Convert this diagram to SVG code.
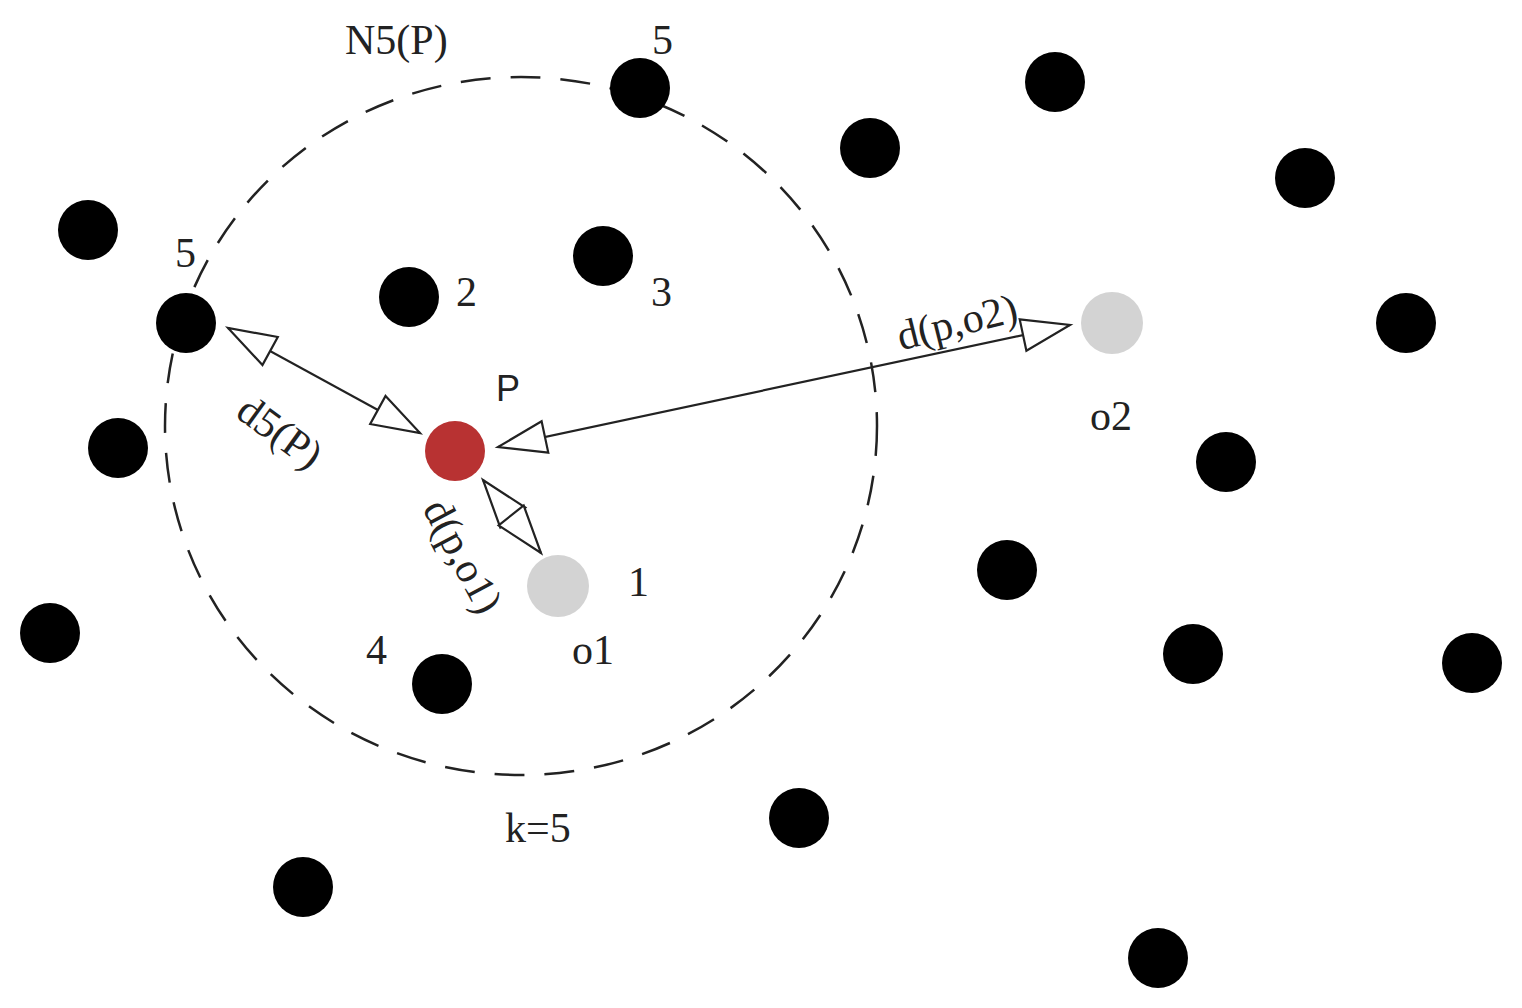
<svg xmlns="http://www.w3.org/2000/svg" width="1522" height="1008" viewBox="0 0 1522 1008">
<style>
.dot{fill:#000}
.gray{fill:#d3d3d3}
.red{fill:#b83232}
.t{font-family:"Liberation Serif",serif;font-size:42px;fill:#222}
.s{font-family:"Liberation Sans",sans-serif;font-size:36px;fill:#222}
.ln{stroke:#222;stroke-width:2.2;fill:none}
</style>
<defs>
<marker id="ah" markerUnits="userSpaceOnUse" markerWidth="54" markerHeight="38" viewBox="-2 -19 54 38" refX="48" refY="0" orient="auto-start-reverse">
<path d="M0,-16 L48,0 L0,16 Z" fill="#fff" stroke="#222" stroke-width="2.2"/>
</marker>
</defs>
<rect width="1522" height="1008" fill="#fff"/>
<g id="neighborhood">
<ellipse cx="521" cy="426" rx="356" ry="349" fill="none" stroke="#222" stroke-width="2.5" stroke-dasharray="30 20"/>
<text class="t" x="345" y="54">N5(P)</text>
<text class="t" x="505" y="842">k=5</text>
</g>
<g id="connectors">
<line class="ln" x1="228" y1="328" x2="420" y2="433" marker-start="url(#ah)" marker-end="url(#ah)"/>
<line class="ln" x1="498" y1="447" x2="1070" y2="325" marker-start="url(#ah)" marker-end="url(#ah)"/>
<line class="ln" x1="483" y1="480" x2="541" y2="553" marker-start="url(#ah)" marker-end="url(#ah)"/>
<text class="t" transform="translate(280,432) rotate(36)" text-anchor="middle" dy="14">d5(P)</text>
<text class="t" transform="translate(463,556) rotate(62)" text-anchor="middle" dy="14">d(p,o1)</text>
<text class="t" transform="translate(957,322) rotate(-14)" text-anchor="middle" dy="14">d(p,o2)</text>
</g>
<g id="p"><circle class="red" cx="455" cy="451" r="30"/><text class="s" x="496" y="401">P</text></g>
<g id="o1"><circle class="gray" cx="558" cy="586" r="31"/><text class="t" x="628" y="596">1</text><text class="t" x="572" y="664">o1</text></g>
<g id="o2"><circle class="gray" cx="1112" cy="323" r="31"/><text class="t" x="1090" y="430">o2</text></g>
<g id="n1"><circle class="dot" cx="640" cy="88" r="30"/><text class="t" x="652" y="54">5</text></g>
<g id="n2"><circle class="dot" cx="409" cy="297" r="30"/><text class="t" x="456" y="306">2</text></g>
<g id="n3"><circle class="dot" cx="603" cy="256" r="30"/><text class="t" x="651" y="306">3</text></g>
<g id="n4"><circle class="dot" cx="442" cy="684" r="30"/><text class="t" x="366" y="664">4</text></g>
<g id="n5"><circle class="dot" cx="186" cy="323" r="30"/><text class="t" x="175" y="267">5</text></g>
<g id="d1"><circle class="dot" cx="1055" cy="82" r="30"/></g>
<g id="d2"><circle class="dot" cx="870" cy="148" r="30"/></g>
<g id="d3"><circle class="dot" cx="1305" cy="178" r="30"/></g>
<g id="d4"><circle class="dot" cx="88" cy="230" r="30"/></g>
<g id="d5"><circle class="dot" cx="1406" cy="323" r="30"/></g>
<g id="d6"><circle class="dot" cx="118" cy="448" r="30"/></g>
<g id="d7"><circle class="dot" cx="1226" cy="462" r="30"/></g>
<g id="d8"><circle class="dot" cx="1007" cy="570" r="30"/></g>
<g id="d9"><circle class="dot" cx="50" cy="633" r="30"/></g>
<g id="d10"><circle class="dot" cx="1193" cy="654" r="30"/></g>
<g id="d11"><circle class="dot" cx="1472" cy="663" r="30"/></g>
<g id="d12"><circle class="dot" cx="799" cy="818" r="30"/></g>
<g id="d13"><circle class="dot" cx="303" cy="887" r="30"/></g>
<g id="d14"><circle class="dot" cx="1158" cy="958" r="30"/></g>
</svg>
